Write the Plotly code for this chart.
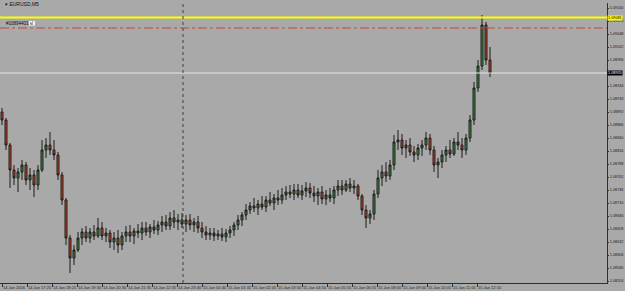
import plotly.graph_objects as go

# ---- data (EURUSD) ----
bar_index = list(range(123))
opens = [1.08892,1.08876,1.08826,1.08776,1.08760,1.08772,1.08786,1.08756,1.08766,1.08746,
         1.08776,1.08816,1.08826,1.08816,1.08806,1.08766,1.08716,1.08640,1.08600,1.08616,
         1.08640,1.08652,1.08640,1.08652,1.08644,1.08660,1.08644,1.08650,1.08632,1.08640,
         1.08626,1.08644,1.08652,1.08644,1.08654,1.08650,1.08660,1.08652,1.08662,1.08656,
         1.08666,1.08672,1.08664,1.08680,1.08672,1.08676,1.08668,1.08676,1.08666,1.08672,
         1.08660,1.08652,1.08646,1.08650,1.08644,1.08648,1.08642,1.08650,1.08656,1.08666,
         1.08676,1.08686,1.08696,1.08704,1.08700,1.08708,1.08702,1.08716,1.08710,1.08720,
         1.08716,1.08726,1.08732,1.08728,1.08736,1.08726,1.08734,1.08740,1.08730,1.08724,
         1.08732,1.08718,1.08726,1.08720,1.08736,1.08744,1.08736,1.08748,1.08740,1.08744,
         1.08724,1.08696,1.08680,1.08688,1.08728,1.08760,1.08772,1.08764,1.08786,1.08832,
         1.08836,1.08820,1.08826,1.08812,1.08806,1.08820,1.08826,1.08840,1.08816,1.08786,
         1.08792,1.08806,1.08816,1.08808,1.08832,1.08826,1.08816,1.08840,1.08876,1.08940,
         1.08984,1.09066,1.08996]
highs = [1.08900,1.08880,1.08830,1.08786,1.08780,1.08796,1.08792,1.08780,1.08776,1.08786,
         1.08836,1.08840,1.08852,1.08836,1.08812,1.08772,1.08720,1.08646,1.08626,1.08652,
         1.08660,1.08664,1.08660,1.08666,1.08680,1.08672,1.08660,1.08656,1.08652,1.08656,
         1.08652,1.08664,1.08666,1.08660,1.08668,1.08672,1.08672,1.08668,1.08676,1.08674,
         1.08684,1.08686,1.08692,1.08696,1.08688,1.08690,1.08686,1.08688,1.08680,1.08684,
         1.08672,1.08664,1.08660,1.08660,1.08656,1.08660,1.08658,1.08664,1.08672,1.08686,
         1.08692,1.08708,1.08712,1.08720,1.08716,1.08724,1.08724,1.08732,1.08728,1.08736,
         1.08740,1.08744,1.08746,1.08748,1.08748,1.08746,1.08752,1.08750,1.08744,1.08740,
         1.08744,1.08736,1.08740,1.08744,1.08756,1.08756,1.08756,1.08760,1.08756,1.08748,
         1.08728,1.08706,1.08696,1.08736,1.08776,1.08786,1.08792,1.08796,1.08846,1.08856,
         1.08848,1.08836,1.08840,1.08824,1.08828,1.08836,1.08852,1.08848,1.08824,1.08800,
         1.08816,1.08824,1.08836,1.08840,1.08852,1.08840,1.08848,1.08886,1.08952,1.08996,
         1.09086,1.09072,1.09022]
lows = [1.08866,1.08816,1.08740,1.08746,1.08732,1.08756,1.08746,1.08736,1.08722,1.08736,
        1.08772,1.08800,1.08806,1.08796,1.08756,1.08706,1.08626,1.08570,1.08586,1.08612,
        1.08626,1.08632,1.08630,1.08636,1.08640,1.08636,1.08632,1.08620,1.08616,1.08610,
        1.08616,1.08632,1.08632,1.08628,1.08640,1.08636,1.08644,1.08640,1.08648,1.08646,
        1.08652,1.08656,1.08656,1.08660,1.08656,1.08660,1.08652,1.08656,1.08652,1.08650,
        1.08640,1.08636,1.08636,1.08634,1.08636,1.08634,1.08632,1.08640,1.08644,1.08656,
        1.08664,1.08676,1.08688,1.08692,1.08686,1.08696,1.08692,1.08704,1.08696,1.08706,
        1.08708,1.08716,1.08720,1.08716,1.08720,1.08716,1.08722,1.08720,1.08712,1.08706,
        1.08708,1.08706,1.08712,1.08708,1.08724,1.08726,1.08732,1.08732,1.08728,1.08716,
        1.08686,1.08660,1.08668,1.08676,1.08720,1.08744,1.08752,1.08756,1.08776,1.08816,
        1.08806,1.08800,1.08804,1.08792,1.08796,1.08804,1.08816,1.08806,1.08772,1.08760,
        1.08780,1.08792,1.08800,1.08804,1.08816,1.08800,1.08806,1.08832,1.08866,1.08932,
        1.08976,1.08986,1.08962]
closes = [1.08876,1.08826,1.08776,1.08760,1.08772,1.08786,1.08756,1.08766,1.08746,1.08776,
          1.08816,1.08826,1.08816,1.08806,1.08766,1.08716,1.08640,1.08600,1.08616,1.08640,
          1.08652,1.08640,1.08652,1.08644,1.08660,1.08644,1.08650,1.08632,1.08640,1.08626,
          1.08644,1.08652,1.08644,1.08654,1.08650,1.08660,1.08652,1.08662,1.08656,1.08666,
          1.08672,1.08664,1.08680,1.08672,1.08676,1.08668,1.08676,1.08666,1.08672,1.08660,
          1.08652,1.08646,1.08650,1.08644,1.08648,1.08642,1.08650,1.08656,1.08666,1.08676,
          1.08686,1.08696,1.08704,1.08700,1.08708,1.08702,1.08716,1.08710,1.08720,1.08716,
          1.08726,1.08732,1.08728,1.08736,1.08726,1.08734,1.08740,1.08730,1.08724,1.08732,
          1.08718,1.08726,1.08720,1.08736,1.08744,1.08736,1.08748,1.08740,1.08744,1.08724,
          1.08696,1.08680,1.08688,1.08728,1.08760,1.08772,1.08764,1.08786,1.08832,1.08836,
          1.08820,1.08826,1.08812,1.08806,1.08820,1.08826,1.08840,1.08816,1.08786,1.08792,
          1.08806,1.08816,1.08808,1.08832,1.08826,1.08816,1.08840,1.08876,1.08940,1.08984,
          1.09066,1.08996,1.08970]

time_labels = ["14 Jan 2016", "14 Jan 17:25", "14 Jan 18:25", "14 Jan 19:30", "14 Jan 20:30",
               "14 Jan 21:35", "14 Jan 22:35", "14 Jan 23:40", "15 Jan 00:40", "15 Jan 01:45",
               "15 Jan 02:45", "15 Jan 03:50", "15 Jan 04:50", "15 Jan 05:55", "15 Jan 06:55",
               "15 Jan 08:00", "15 Jan 09:00", "15 Jan 10:05", "15 Jan 11:05", "15 Jan 12:10"]
time_label_bars = [0, 6.25, 12.5, 18.75, 25, 31.25, 37.5, 43.75, 50, 56.25,
                   62.5, 68.75, 75, 81.25, 87.5, 93.75, 100, 106.25, 112.5, 118.75]
price_ticks = ["1.09100", "1.09074", "1.09048", "1.09022", "1.08996", "1.08944",
               "1.08918", "1.08892", "1.08866", "1.08840", "1.08814", "1.08788", "1.08762",
               "1.08736", "1.08710", "1.08684", "1.08658", "1.08632", "1.08606", "1.08580",
               "1.08554"]
level_yellow = 1.09081
level_stop = 1.09060
bid_price = 1.08970
separator_bar = 45.25
order_label = "#10894403 sl"
symbol_title = "▾ EURUSD,M5"

BG = "#a9a9a9"
FONT = "Liberation Sans Narrow, Liberation Sans, Arial"

fig = go.Figure()
fig.add_trace(go.Candlestick(
    x=bar_index, open=opens, high=highs, low=lows, close=closes,
    increasing=dict(line=dict(color="#1c1c1c", width=1), fillcolor="#3a9440"),
    decreasing=dict(line=dict(color="#1c1c1c", width=1), fillcolor="#d2421e"),
    whiskerwidth=0, hoverinfo="skip",
))

fig.update_layout(
    width=625, height=291,
    margin=dict(l=0, r=18, t=3, b=8),
    paper_bgcolor=BG, plot_bgcolor=BG,
    showlegend=False,
    font=dict(family=FONT, size=5, color="#202020"),
)
fig.update_xaxes(
    range=[-0.5, 151.25], rangeslider_visible=False,
    showgrid=False, zeroline=False, automargin=False,
    showline=True, linecolor="#303030", linewidth=1,
    tickvals=time_label_bars, ticktext=time_labels, tickangle=0,
    ticks="outside", ticklen=3, tickcolor="#303030",
    ticklabelposition="outside right",
    tickfont=dict(size=4, family=FONT, color="#202020"),
)
fig.update_yaxes(
    side="right", range=[1.08550, 1.09110],
    showgrid=False, zeroline=False, automargin=False,
    showline=True, linecolor="#303030", linewidth=1,
    tickvals=[float(t) for t in price_ticks], ticktext=price_ticks,
    ticks="outside", ticklen=1, tickcolor="#303030",
    tickfont=dict(size=3.8, family=FONT, color="#202020"),
)

# horizontal levels
fig.add_shape(type="line", xref="paper", x0=0, x1=1, y0=level_yellow, y1=level_yellow,
              line=dict(color="#ffff00", width=2))
fig.add_shape(type="line", xref="paper", x0=0, x1=1, y0=level_stop, y1=level_stop,
              line=dict(color="#c8463a", width=1, dash="dashdot"))
fig.add_shape(type="line", xref="paper", x0=0, x1=1, y0=bid_price, y1=bid_price,
              line=dict(color="#e6e6e6", width=1))
# period separator
fig.add_shape(type="line", yref="paper", y0=0, y1=1, x0=separator_bar, x1=separator_bar,
              line=dict(color="#404040", width=1, dash="dot"))

# price labels on the axis
fig.add_annotation(xref="paper", x=1, xanchor="left", y=level_yellow, yanchor="middle",
                   text=f"{level_yellow:.5f}", showarrow=False, bgcolor="#ffff00",
                   font=dict(size=3.8, color="#000000", family=FONT), borderpad=0)
fig.add_annotation(xref="paper", x=1, xanchor="left", y=bid_price, yanchor="middle",
                   text=f"{bid_price:.5f}", showarrow=False, bgcolor="#000000",
                   font=dict(size=3.8, color="#ffffff", family=FONT), borderpad=0)

# title and order label
fig.add_annotation(xref="paper", yref="paper", x=0.005, y=0.997, xanchor="left", yanchor="middle",
                   text=symbol_title, showarrow=False,
                   font=dict(size=5, color="#101010", family=FONT))
fig.add_annotation(xref="paper", x=0.006, y=1.09070, xanchor="left", yanchor="middle",
                   text=order_label, showarrow=False,
                   font=dict(size=4.5, color="#101010", family=FONT))
fig.add_shape(type="rect", xref="x", x0=6.7, x1=8.2, y0=1.09065, y1=1.09074,
              fillcolor="#ffffff", line=dict(width=0))

fig.write_html("out.html")
